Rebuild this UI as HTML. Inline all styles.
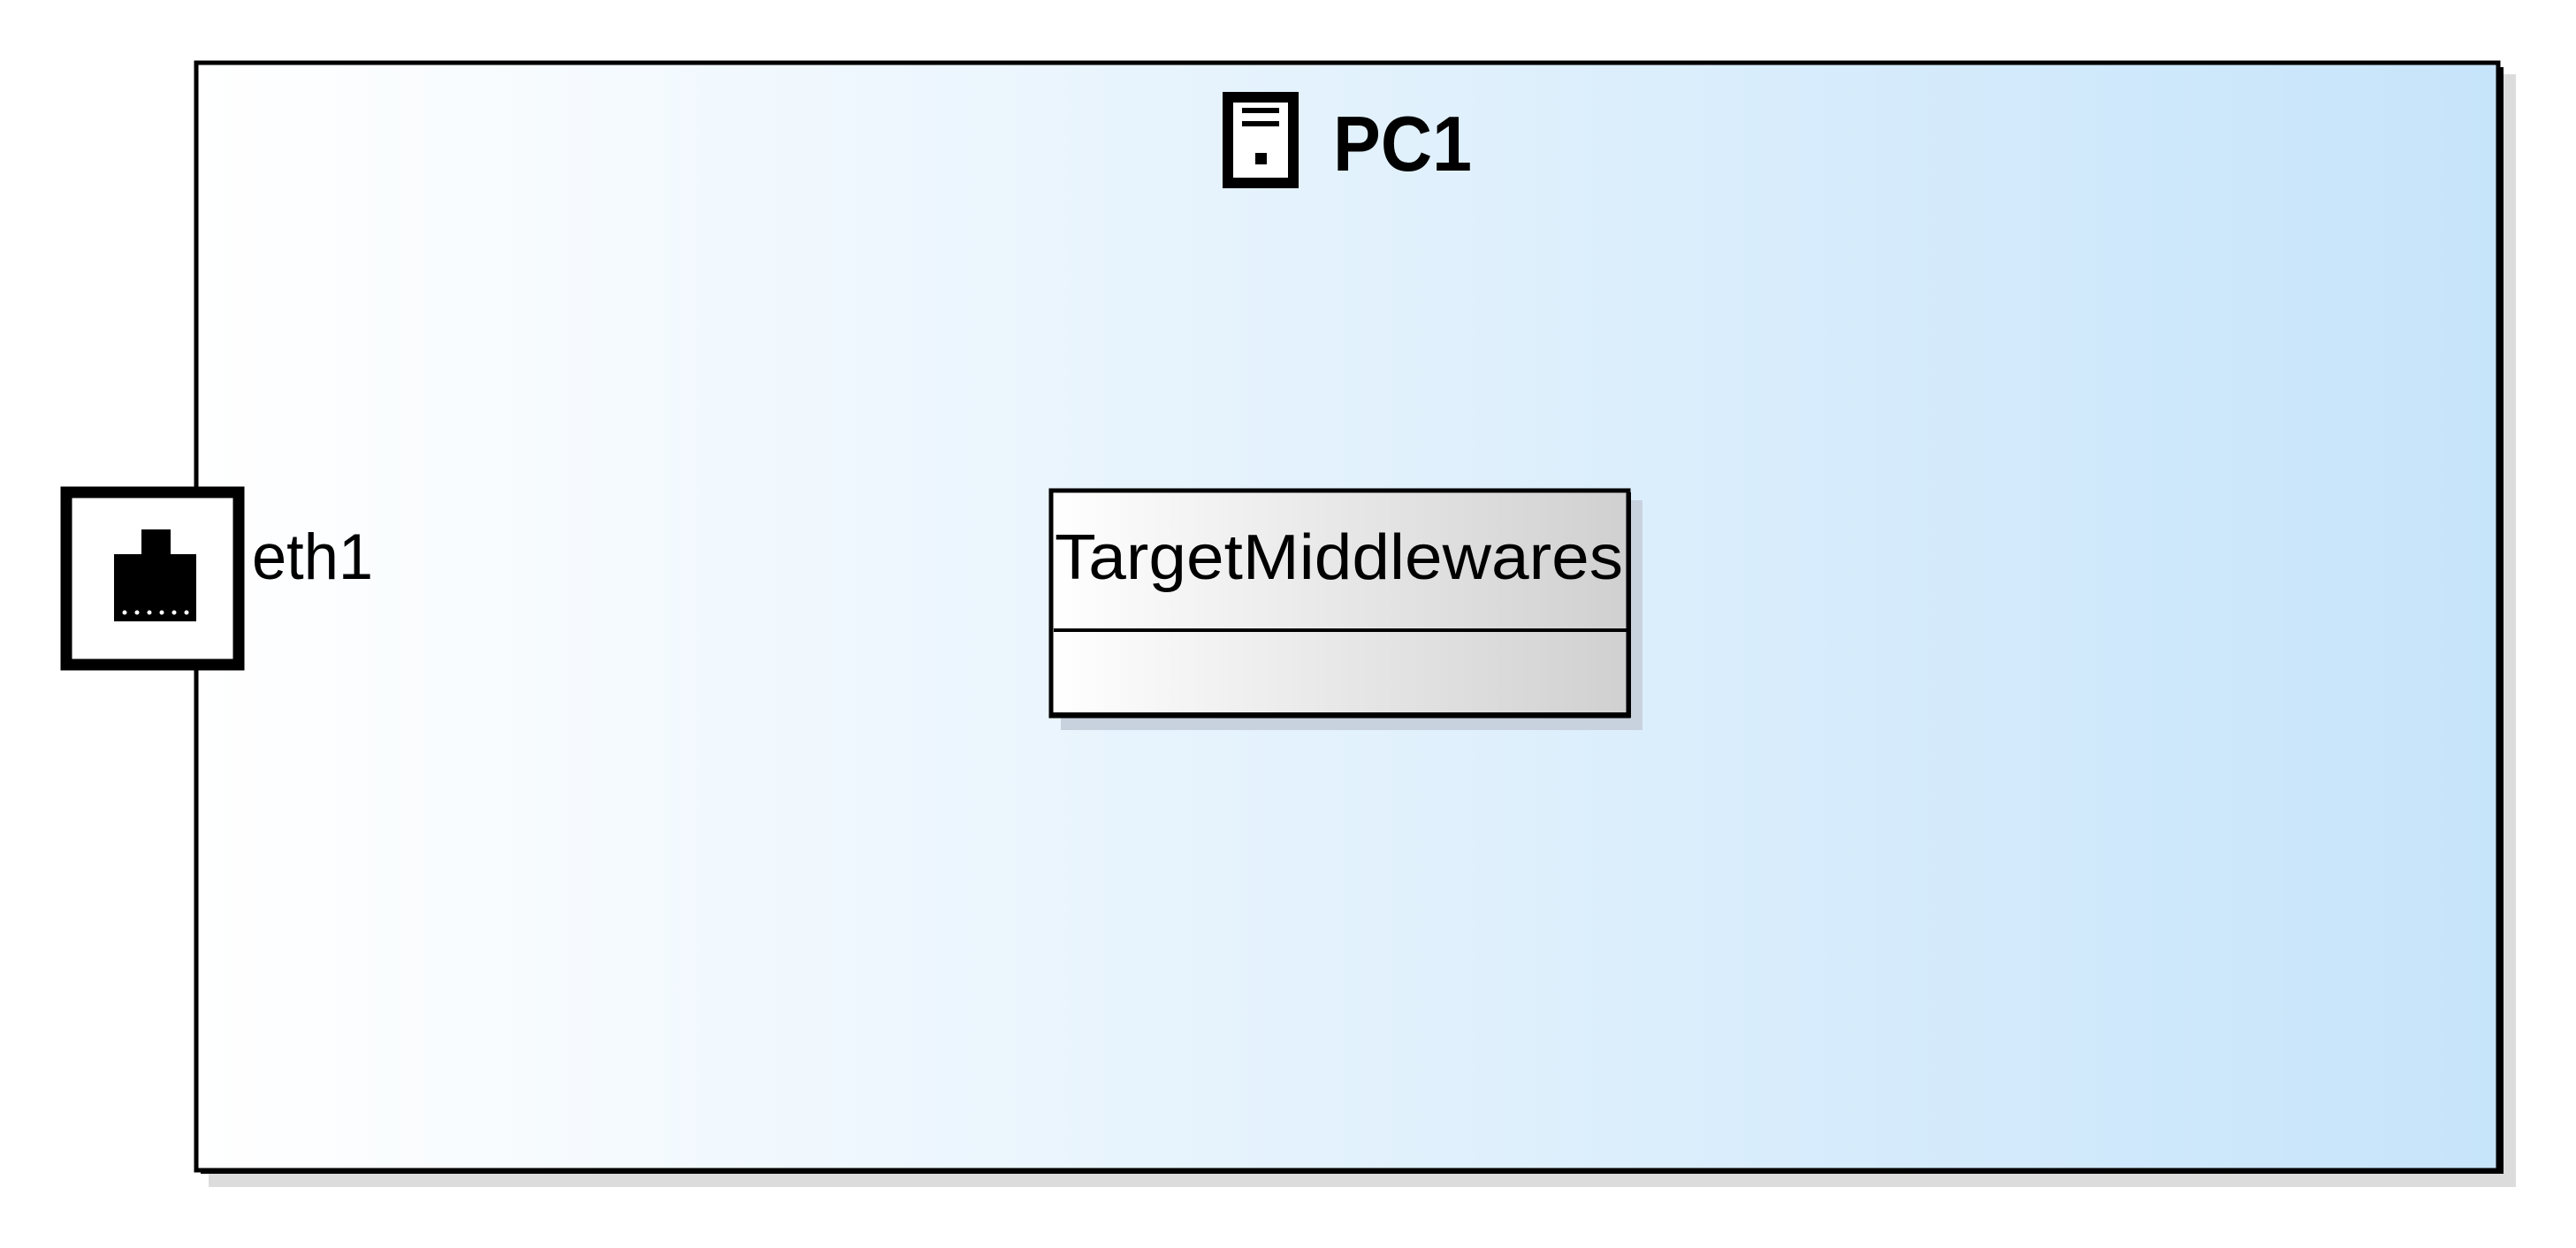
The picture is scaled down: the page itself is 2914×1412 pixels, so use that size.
<!DOCTYPE html>
<html><head><meta charset="utf-8"><style>html,body{margin:0;padding:0;background:#fff}svg{display:block}</style></head>
<body>
<svg width="2914" height="1412" viewBox="0 0 2914 1412" xmlns="http://www.w3.org/2000/svg">
<defs>
<linearGradient id="g1" x1="0" y1="0" x2="1" y2="0"><stop offset="0" stop-color="#ffffff"/><stop offset="1" stop-color="#c6e4fa"/></linearGradient>
<linearGradient id="g2" x1="0" y1="0" x2="1" y2="0"><stop offset="0" stop-color="#ffffff"/><stop offset="1" stop-color="#d0d0d0"/></linearGradient>
</defs>
<rect x="236" y="84" width="2610" height="1259" fill="#dcdcdc"/>
<rect x="222" y="71" width="2604" height="1253" fill="url(#g1)" stroke="#000" stroke-width="5"/>
<rect x="2826" y="76" width="6" height="1252" fill="#000"/>
<rect x="227" y="1322" width="2605" height="6" fill="#000"/>
<!-- PC icon -->
<rect x="1389" y="110" width="74" height="97" fill="#fff" stroke="#000" stroke-width="12"/>
<rect x="1405" y="122" width="42" height="6" fill="#000"/>
<rect x="1405" y="137" width="42" height="6" fill="#000"/>
<rect x="1420" y="173" width="13" height="13" fill="#000"/>
<text x="1508" y="193" font-family="Liberation Sans, sans-serif" font-weight="bold" font-size="88" textLength="157" lengthAdjust="spacingAndGlyphs">PC1</text>
<!-- class box -->
<rect x="1200" y="566" width="658" height="260" fill="#c8d2de"/>
<rect x="1189" y="555" width="653" height="255" fill="url(#g2)" stroke="#000" stroke-width="5"/>
<rect x="1189" y="806" width="656" height="6" fill="#000"/>
<rect x="1840" y="557" width="5" height="255" fill="#000"/>
<line x1="1192" y1="713" x2="1840" y2="713" stroke="#000" stroke-width="4"/>
<text x="1193" y="655" font-family="Liberation Sans, sans-serif" font-size="72" textLength="643" lengthAdjust="spacingAndGlyphs">TargetMiddlewares</text>
<!-- port -->
<rect x="75" y="557" width="195" height="195" fill="#fff" stroke="#000" stroke-width="13"/>
<rect x="160" y="599" width="33" height="30" fill="#000"/>
<rect x="129" y="627" width="93" height="76" fill="#000"/>
<g fill="#fff"><circle cx="141" cy="693" r="2.5"/><circle cx="155" cy="693" r="2.5"/><circle cx="169" cy="693" r="2.5"/><circle cx="183" cy="693" r="2.5"/><circle cx="197" cy="693" r="2.5"/><circle cx="211" cy="693" r="2.5"/></g>
<text x="285" y="655" font-family="Liberation Sans, sans-serif" font-size="73" textLength="137" lengthAdjust="spacingAndGlyphs">eth1</text>
</svg>
</body></html>
